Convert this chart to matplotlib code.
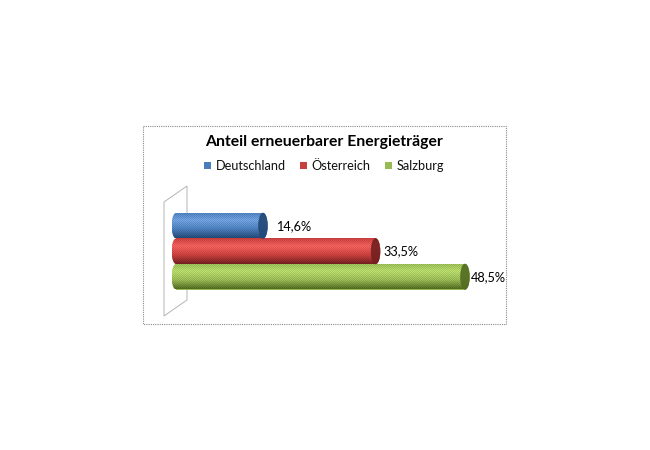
import numpy as np
import matplotlib
matplotlib.use("Agg")
import matplotlib.pyplot as plt
from matplotlib.patches import Polygon, Rectangle, Ellipse

title = "Anteil erneuerbarer Energieträger"
countries = ["Deutschland", "Österreich", "Salzburg"]
shares = [14.6, 33.5, 48.5]
share_labels = ["14,6%", "33,5%", "48,5%"]
base_colors = ["#4a7ebb", "#c8403e", "#98b954"]
light_colors = ["#6f9fdc", "#ef5f5c", "#b5d96a"]
dark_colors = ["#234a78", "#752020", "#536d22"]
label_offsets = [13, 8, 6]

W, H = 650, 450
plt.rcParams['font.family'] = ['Lato', 'DejaVu Sans']
fig = plt.figure(figsize=(W / 100, H / 100), dpi=100, facecolor="white")

# pixel-coordinates backdrop
bg = fig.add_axes([0, 0, 1, 1])
bg.set_xlim(0, W)
bg.set_ylim(H, 0)
bg.axis("off")
bg.add_patch(Rectangle((143, 126), 363, 198, fill=False, ec="#8a8a8a", lw=0.8, ls=(0, (1, 1))))
bg.add_patch(Polygon([(164, 202), (187, 186), (187, 300), (164, 316)], closed=True,
                     fill=False, ec="#b4b4b4", lw=0.7))
bg.text(324.5, 142, title, ha="center", va="center", fontsize=11.3, fontweight="bold", color="black")

# data axes: 0 at x=176 px, 48.5 at x=465 px, with a margin for the round cylinder ends
unit_px = (465 - 176) / max(shares)
xmin, xmax = -1.0, 50.0
ax_left = 176 + xmin * unit_px
ax_width = (xmax - xmin) * unit_px
ytop, ybot = 213, 289.5
ax = fig.add_axes([ax_left / W, 1 - ybot / H, ax_width / W, (ybot - ytop) / H])
ax.patch.set_alpha(0)
ax.axis("off")
ax.set_xlim(xmin, xmax)
ax.set_ylim(2.5, -0.5)

bars = ax.barh(range(len(countries)), shares, height=1.0, color=base_colors)
cap_rx = 4.5 / unit_px
t = np.linspace(-np.pi / 2, np.pi / 2, 40)


def rgb(h):
    return np.array(matplotlib.colors.to_rgb(h))


for i, (v, lo, mid, hi) in enumerate(zip(shares, dark_colors, base_colors, light_colors)):
    # vertical shading of the cylinder body, with the dither of the source image
    rows, cols = 26, int(round(v * unit_px + 9))
    s = np.linspace(0, 1, rows)
    stops = [0.0, 0.3, 0.65, 1.0]
    cs = np.array([rgb(mid), rgb(hi), rgb(mid), rgb(lo)])
    grad = np.stack([np.interp(s, stops, cs[:, c]) for c in range(3)], axis=1)
    img = np.repeat(grad[:, None, :], cols, axis=1)
    yy, xx = np.indices((rows, cols))
    img = np.clip(img * (1 + 0.06 * (((xx + yy) % 2) * 2 - 1))[..., None], 0, 1)
    im = ax.imshow(img, extent=(-cap_rx, v + cap_rx, i + 0.5, i - 0.5), aspect="auto",
                   interpolation="nearest", zorder=3)
    ax.set_xlim(xmin, xmax)
    ax.set_ylim(2.5, -0.5)
    outline = np.concatenate([
        np.column_stack([v + cap_rx * np.cos(t), i + 0.5 * np.sin(t)]),
        np.column_stack([-cap_rx * np.cos(t[::-1]), i + 0.5 * np.sin(t[::-1])]),
    ])
    clip = Polygon(outline, closed=True, transform=ax.transData, fc="none", ec="none")
    ax.add_patch(clip)
    im.set_clip_path(clip)
    ax.add_patch(Ellipse((v, i), 2 * cap_rx, 1.0, fc=lo, ec=lo, lw=0.4, zorder=4, clip_on=False, alpha=0.92))
    ax.annotate(share_labels[i], (v, i), xytext=(label_offsets[i] * 0.72, 0),
                textcoords="offset points", ha="left", va="center", fontsize=9.2,
                color="black", annotation_clip=False, zorder=5)

handles = [Rectangle((0, 0), 1, 1, fc=c) for c in base_colors]
fig.legend(handles, countries, loc="center", bbox_to_anchor=(324 / W, 1 - 166 / H), ncols=3,
           frameon=False, fontsize=9.2, handlelength=0.52, handleheight=0.52, handletextpad=0.35,
           columnspacing=1.15, borderpad=0, labelcolor="#111111")

fig.savefig("out.png", dpi=100, facecolor="white")
